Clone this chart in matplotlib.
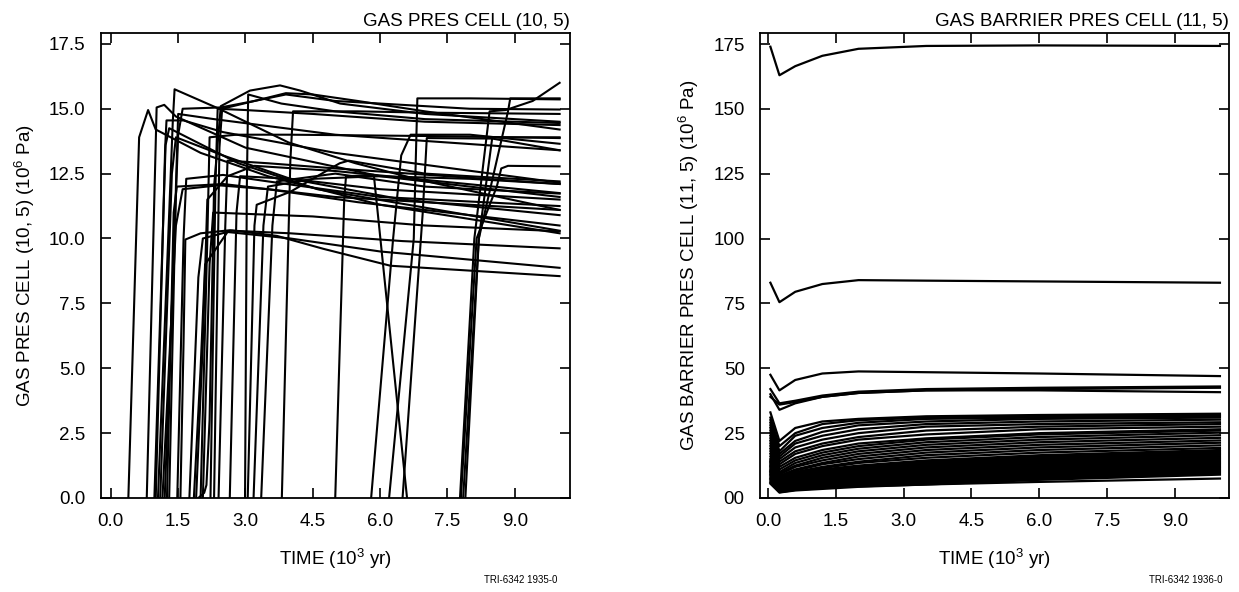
import matplotlib
matplotlib.use("Agg")
import matplotlib.pyplot as plt

plt.rcParams['font.family'] = ['Liberation Sans', 'DejaVu Sans']
plt.rcParams['mathtext.default'] = 'regular'

# ---- left panel: gas pressure cell (10, 5), 10^6 Pa vs 10^3 yr ----
# each curve sits at 0 until its first point (onset), so it starts there
gas_curves = [
    ([0.39, 0.63, 0.83, 1.0, 2.0, 3.5, 6.0, 10.0], [0, 13.9, 14.95, 14.2, 13.3, 12.4, 11.3, 10.2]),
    ([0.80, 1.02, 1.19, 1.45, 3.0, 6.0, 10.0], [0, 15.05, 15.15, 14.7, 13.5, 12.4, 11.6]),
    ([0.97, 1.22, 1.3, 2.84, 4.6, 10.0], [0, 13.6, 14.25, 12.9, 11.9, 10.3]),
    ([1.0, 1.21, 1.24, 1.62, 2.5, 5.0, 10.0], [0, 13.5, 14.55, 14.55, 14.1, 13.3, 12.15]),
    ([1.05, 1.38, 1.42, 2.41, 3.96, 5.45, 6.9, 10.0], [0, 14.5, 15.75, 15.0, 13.7, 12.9, 12.25, 11.1]),
    ([1.1, 1.36, 1.45, 2.5, 4.0, 6.5, 10.0], [0, 12.5, 13.9, 13.2, 12.3, 11.5, 10.9]),
    ([1.15, 1.45, 1.6, 2.4, 3.5, 5.5, 8.0, 10.0], [0, 10.5, 11.9, 12.05, 11.9, 11.4, 10.9, 10.5]),
    ([1.2, 1.5, 1.6, 2.45, 3.2, 3.9, 5.0, 8.0, 10.0], [0, 14.0, 15.0, 15.05, 15.3, 15.55, 15.3, 15.0, 14.97]),
    ([1.48, 1.62, 1.68, 2.5, 3.5, 6.0, 10.0], [0, 10.0, 12.3, 12.45, 12.2, 11.6, 11.25]),
    ([1.55, 1.62, 1.66, 2.0, 2.66, 3.7, 4.74, 6.23, 10.0], [0, 6.0, 9.96, 10.2, 10.32, 10.1, 9.6, 8.95, 8.55]),
    ([1.75, 1.95, 2.05, 2.7, 4.0, 6.5, 10.0], [0, 8.5, 10.0, 10.3, 10.2, 9.9, 9.62]),
    ([1.85, 2.0, 2.1, 2.6, 4.0, 6.0, 10.0], [0, 5.0, 9.0, 10.25, 10.0, 9.5, 8.87]),
    ([1.9, 2.05, 2.15, 2.6, 3.2, 5.0, 10.0], [0, 6.0, 11.5, 12.4, 12.8, 12.6, 11.75]),
    ([1.95, 2.08, 2.13, 2.2, 2.3, 2.45, 3.1, 3.77, 4.22, 5.11, 7.0, 10.0],
     [0, 0.2, 0.5, 3.0, 12.0, 15.1, 15.7, 15.9, 15.7, 15.2, 14.8, 14.5]),
    ([2.0, 2.15, 2.2, 2.8, 4.0, 7.0, 10.0], [0, 10.0, 13.9, 14.0, 14.0, 13.95, 13.87]),
    ([2.05, 2.2, 2.28, 3.0, 4.5, 7.0, 10.0], [0, 9.0, 11.0, 10.95, 10.85, 10.5, 10.28]),
    ([2.22, 2.33, 2.38, 3.0, 4.5, 7.0, 10.0], [0, 12.0, 15.0, 14.95, 14.8, 14.5, 14.37]),
    ([2.3, 2.42, 2.48, 3.2, 3.9, 4.5, 5.5, 7.0, 10.0], [0, 13.5, 15.0, 15.3, 15.6, 15.55, 15.3, 14.9, 14.2]),
    ([2.4, 2.55, 2.6, 3.5, 5.0, 7.5, 10.0], [0, 10.5, 13.0, 12.9, 12.7, 12.4, 12.1]),
    ([2.65, 2.8, 2.88, 4.0, 6.0, 10.0], [0, 11.0, 12.4, 12.3, 11.9, 11.5]),
    ([2.99, 3.03, 3.06, 3.8, 5.0, 7.0, 10.0], [0, 12.0, 15.55, 15.2, 14.9, 14.6, 14.45]),
    ([3.05, 3.2, 3.25, 4.0, 5.1, 5.3, 7.0, 10.0], [0, 10.5, 11.3, 11.8, 12.9, 13.0, 12.5, 12.2]),
    ([3.18, 3.4, 3.5, 4.5, 6.0, 8.0, 10.0], [0, 10.5, 12.0, 12.3, 12.4, 12.3, 12.1]),
    ([3.35, 3.6, 3.7, 5.0, 7.0, 10.0], [0, 10.5, 12.2, 12.5, 12.0, 11.73]),
    ([3.81, 4.0, 4.06, 5.5, 7.0, 10.0], [0, 13.0, 14.9, 14.9, 14.85, 14.8]),
    ([5.0, 5.2, 5.24, 5.86, 6.6], [0, 11.5, 12.4, 12.45, 0]),
    ([5.8, 6.29, 6.47, 6.68, 8.0, 10.0], [0, 10.0, 13.2, 14.0, 14.0, 13.65]),
    ([6.2, 6.75, 6.83, 8.0, 10.0], [0, 10.0, 15.4, 15.4, 15.36]),
    ([6.5, 6.95, 7.04, 8.5, 10.0], [0, 11.0, 13.87, 13.85, 13.4]),
    ([7.78, 8.1, 8.44, 8.8, 9.4, 10.0], [0, 10.0, 14.9, 14.95, 15.3, 16.0]),
    ([7.8, 8.15, 8.6, 8.7, 8.85, 10.0], [0, 10.0, 12.0, 12.7, 12.8, 12.78]),
    ([7.85, 8.2, 8.85, 8.9, 10.0], [0, 10.0, 14.9, 15.4, 15.4]),
    ([7.9, 8.2, 8.5, 10.0], [0, 10.0, 13.9, 13.9]),
    ([1.3, 1.45, 1.5, 2.3, 5.0, 10.0], [0, 12.0, 14.8, 14.6, 14.0, 13.4]),
    ([1.25, 1.4, 1.47, 2.5, 5.0, 10.0], [0, 11.0, 12.0, 12.1, 11.6, 11.1]),
]

# ---- right panel: gas barrier pressure cell (11, 5) ----
barrier_t = [0.05, 0.25, 0.6, 1.2, 2.0, 3.5, 6.0, 10.0]
barrier_high = [
    [174, 163, 166.5, 170.5, 173.2, 174.3, 174.5, 174.3],
    [83, 75.5, 79.5, 82.5, 84, 83.8, 83.5, 83],
    [47.5, 41.5, 45.5, 48, 48.8, 48.5, 48, 47],
    [42, 36.5, 37.5, 39.5, 41, 42, 42.5, 43],
    [40, 34, 36.5, 39, 40.5, 41.5, 41.5, 40.8],
    [39, 36, 37, 39, 40.5, 41.5, 42, 42.5],
]
barrier_low = [
    [33, 22, 27, 29.5, 30.5, 31.5, 32, 32.5],
    [31, 20, 25, 28.5, 30, 31, 31.5, 32],
    [30, 18, 24, 27, 29, 30.5, 31, 31.5],
    [29, 17, 22, 25.5, 28, 29.5, 30.5, 31],
    [28, 16, 21, 24, 26.5, 28.5, 29.5, 30.2],
    [27, 15, 19.5, 22.5, 25, 27.5, 28.5, 29.2],
    [26, 14, 18, 21, 23.5, 26, 27.5, 28.5],
    [25, 13, 17, 20, 22.5, 24.5, 26.5, 27.5],
    [24, 12, 15.5, 18.5, 21, 23, 25, 26.5],
    [23, 11, 14.5, 17.5, 20, 22.5, 24.5, 26],
    [22, 10, 13.5, 16.5, 19, 21.5, 23.5, 25.2],
    [21, 9.5, 12.5, 15.5, 18, 20.5, 22.5, 24.2],
    [20, 9, 12, 14.5, 17, 19.5, 21.5, 23.2],
    [19, 8.5, 11, 13.5, 16, 18.5, 20.5, 22.2],
    [18, 8, 10.5, 13, 15, 17.5, 19.5, 21.3],
    [17, 7.5, 10, 12, 14, 16.5, 18.5, 20.3],
    [16, 7, 9.5, 11.5, 13.5, 15.5, 17.5, 19.3],
    [15, 6.5, 9, 11, 12.5, 14.5, 16.5, 18.5],
    [14.5, 6, 8.5, 10.5, 12, 14, 16, 18],
    [14, 5.5, 8, 10, 11.5, 13.5, 15.5, 17.5],
    [13.5, 5, 7.5, 9.5, 11, 13, 15, 17],
    [13, 4.8, 7, 9, 10.5, 12.5, 14.5, 16.5],
    [12.5, 4.5, 6.5, 8.5, 10, 12, 14, 16],
    [12, 4.2, 6.2, 8, 9.5, 11.5, 13.5, 15.5],
    [11.5, 4, 6, 7.5, 9, 11, 13, 15],
    [11, 3.8, 5.5, 7, 8.5, 10.5, 12.5, 14.5],
    [10.5, 3.6, 5.2, 6.5, 8, 10, 12, 14],
    [10, 3.4, 5, 6.2, 7.5, 9.5, 11.5, 13.5],
    [9.5, 3.2, 4.8, 6, 7.2, 9, 11, 13],
    [9, 3, 4.5, 5.7, 7, 8.5, 10.5, 12.5],
    [8.5, 2.8, 4.2, 5.4, 6.6, 8, 10, 12],
    [8, 2.6, 4, 5, 6.2, 7.5, 9.5, 11.5],
    [7.5, 2.5, 3.8, 4.7, 5.8, 7, 9, 11],
    [7, 2.4, 3.5, 4.4, 5.4, 6.5, 8.5, 10.5],
    [6.5, 2.3, 3.3, 4.1, 5, 6, 8, 10],
    [6, 2.2, 3.1, 3.8, 4.7, 5.6, 7.5, 9.5],
    [5.5, 2.1, 2.9, 3.5, 4.3, 5.2, 7, 9],
    [10, 3, 3.5, 4, 4.5, 5.2, 6.2, 7.5],
]

x_ticks = [0.0, 1.5, 3.0, 4.5, 6.0, 7.5, 9.0]
x_ticklabels = ['0.0', '1.5', '3.0', '4.5', '6.0', '7.5', '9.0']
gas_yticks = [0, 2.5, 5, 7.5, 10, 12.5, 15, 17.5]
gas_yticklabels = ['0.0', '2.5', '5.0', '7.5', '10.0', '12.5', '15.0', '17.5']
bar_yticks = [0, 25, 50, 75, 100, 125, 150, 175]
bar_yticklabels = ['00', '25', '50', '75', '100', '125', '150', '175']

fig = plt.figure(figsize=(12.39, 5.92), dpi=100)
ax1 = fig.add_axes([0.0815, 0.1588, 0.3785, 0.7855])
ax2 = fig.add_axes([0.6134, 0.1588, 0.3785, 0.7855])

for xs, ys in gas_curves:
    ax1.plot(xs, ys, color='black', lw=1.5)
for ys in barrier_high + barrier_low:
    ax2.plot(barrier_t, ys, color='black', lw=1.6)

def style(ax, yticks, ylabels, ylim, xlim, title, ylabel):
    ax.set_xlim(*xlim)
    ax.set_ylim(*ylim)
    ax.set_xticks(x_ticks)
    ax.set_xticklabels(x_ticklabels)
    ax.set_yticks(yticks)
    ax.set_yticklabels(ylabels)
    ax.tick_params(direction='in', length=7, width=1.2, top=True, right=True,
                   labelsize=13.5, pad=11, colors='black')
    for s in ax.spines.values():
        s.set_linewidth(1.3)
    ax.set_title(title, loc='right', fontsize=13.5, pad=5)
    ax.set_xlabel('TIME (10$^{3}$ yr)', fontsize=13.5, labelpad=12)
    ax.set_ylabel(ylabel, fontsize=13.5, labelpad=9)

style(ax1, gas_yticks, gas_yticklabels, (0, 17.92), (-0.22, 10.23),
      'GAS PRES CELL (10, 5)', 'GAS PRES CELL (10, 5) (10$^{6}$ Pa)')
style(ax2, bar_yticks, bar_yticklabels, (0, 179.3), (-0.18, 10.2),
      'GAS BARRIER PRES CELL (11, 5)', 'GAS BARRIER PRES CELL (11, 5) (10$^{6}$ Pa)')

fig.text(0.42, 0.015, 'TRI-6342 1935-0', fontsize=7, ha='center')
fig.text(0.957, 0.015, 'TRI-6342 1936-0', fontsize=7, ha='center')

fig.savefig('out.png', dpi=100)
